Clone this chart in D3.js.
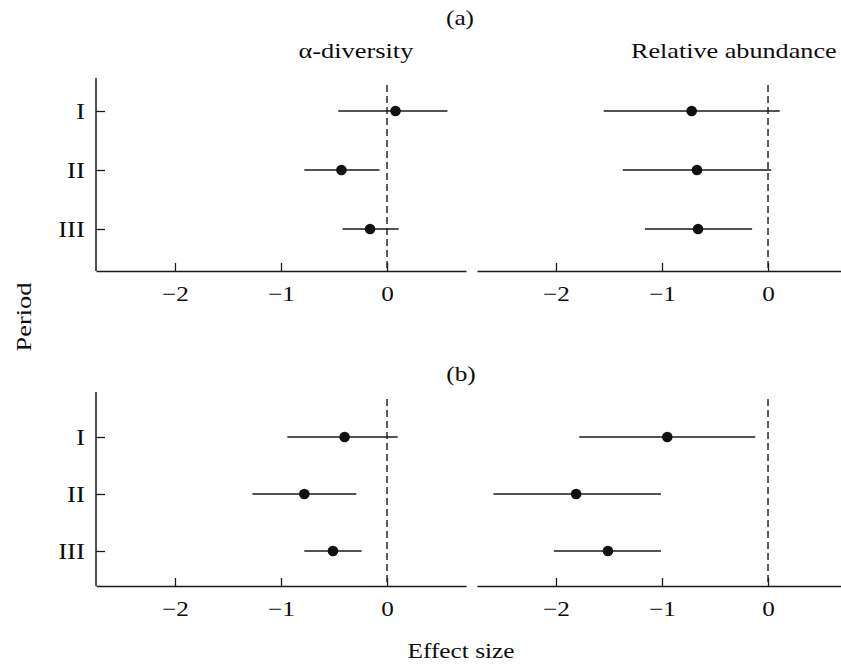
<!DOCTYPE html>
<html>
<head>
<meta charset="utf-8">
<script src="https://cdn.jsdelivr.net/npm/d3@7"></script>
<style>
  body { margin: 0; background: #fff; }
  svg text {
    font-family: "Liberation Serif", "Times New Roman", serif;
    fill: #0d0d0d;
    transform-box: fill-box;
    transform-origin: center;
    transform: scaleX(1.15);
  }
</style>
</head>
<body>
<svg width="841" height="666"></svg>
<script>
var periods = ["I", "II", "III"];
var tickValues = [-2, -1, 0];

// (a)
var alphaMeanA = [0.08, -0.43, -0.16];
var alphaLowA = [-0.46, -0.78, -0.42];
var alphaHighA = [0.57, -0.07, 0.11];
var abundMeanA = [-0.72, -0.67, -0.66];
var abundLowA = [-1.55, -1.37, -1.16];
var abundHighA = [0.11, 0.03, -0.15];

// (b)
var alphaMeanB = [-0.40, -0.78, -0.51];
var alphaLowB = [-0.94, -1.27, -0.78];
var alphaHighB = [0.10, -0.29, -0.24];
var abundMeanB = [-0.95, -1.81, -1.51];
var abundLowB = [-1.78, -2.59, -2.02];
var abundHighB = [-0.12, -1.01, -1.01];

var svg = d3.select("svg");
var ink = "#1a1a1a";

var panelWidth = 370;
var xScale = d3.scaleLinear().domain([-2.745, 0.745]).range([0, panelWidth]);

function rows(mean, low, high) {
    return periods.map((p, i) => ({ period: p, mean: mean[i], low: low[i], high: high[i] }));
}

function drawPanel(left, top, height, yRange, data, withYAxis) {
    var g = svg.append("g").attr("transform", `translate(${left},${top})`);
    var yScale = d3.scalePoint().domain(periods).range(yRange);

    // x axis, ticks pointing inward
    var xAxis = d3.axisBottom(xScale)
        .tickValues(tickValues)
        .tickSize(-8)
        .tickSizeOuter(0)
        .tickPadding(15)
        .tickFormat(d => d < 0 ? "\u2212" + Math.abs(d) : d);
    var gx = g.append("g").attr("transform", `translate(0,${height})`).call(xAxis);
    gx.select(".domain").attr("stroke", ink).attr("stroke-width", 1.5);
    gx.selectAll(".tick line").attr("stroke", ink).attr("stroke-width", 1.3);
    gx.selectAll(".tick text").style("font-size", "21px").attr("fill", "#0d0d0d")
        .style("transform", "scaleX(1.2)");

    if (withYAxis) {
        g.append("line")
            .attr("x1", 0).attr("x2", 0)
            .attr("y1", 0).attr("y2", height)
            .attr("stroke", ink).attr("stroke-width", 1.5);
        var yAxis = d3.axisLeft(yScale).tickSize(-9).tickPadding(11);
        var gy = g.append("g").call(yAxis);
        gy.select(".domain").remove();
        gy.selectAll(".tick line").attr("stroke", ink).attr("stroke-width", 1.3);
        gy.selectAll(".tick text").style("font-size", "24px").attr("fill", "#0d0d0d")
            .style("transform-origin", "right center")
            .style("transform", "scaleX(1.12)");
    }

    // zero line
    g.append("line")
        .attr("x1", xScale(0)).attr("x2", xScale(0))
        .attr("y1", 7).attr("y2", height)
        .attr("stroke", ink).attr("stroke-width", 1.4)
        .attr("stroke-dasharray", "7,4");

    // confidence intervals
    g.selectAll(".ci").data(data).join("line")
        .attr("class", "ci")
        .attr("x1", d => xScale(d.low))
        .attr("x2", d => xScale(d.high))
        .attr("y1", d => yScale(d.period))
        .attr("y2", d => yScale(d.period))
        .attr("stroke", ink).attr("stroke-width", 1.4);

    // means
    g.selectAll(".pt").data(data).join("circle")
        .attr("class", "pt")
        .attr("cx", d => xScale(d.mean))
        .attr("cy", d => yScale(d.period))
        .attr("r", 5.3)
        .attr("fill", "#111");
}

// (a)
drawPanel(96, 78, 193, [33, 151], rows(alphaMeanA, alphaLowA, alphaHighA), true);
drawPanel(477, 78, 193, [33, 151], rows(abundMeanA, abundLowA, abundHighA), false);
// (b)
drawPanel(96, 392, 194, [45, 159], rows(alphaMeanB, alphaLowB, alphaHighB), true);
drawPanel(477, 392, 194, [45, 159], rows(abundMeanB, abundLowB, abundHighB), false);

// titles
svg.append("text").attr("x", 460).attr("y", 25).attr("text-anchor", "middle")
    .style("font-size", "22px").text("(a)");
svg.append("text").attr("x", 461).attr("y", 381).attr("text-anchor", "middle")
    .style("font-size", "22px").text("(b)");
svg.append("text").attr("x", 356).attr("y", 58).attr("text-anchor", "middle")
    .style("font-size", "22px").style("transform", "scaleX(1.2)").text("\u03b1-diversity");
svg.append("text").attr("x", 631).attr("y", 58).attr("text-anchor", "start")
    .style("font-size", "22px").style("transform-origin", "left center")
    .style("transform", "scaleX(1.19)")
    .text("Relative abundance");
svg.append("text").attr("x", 461).attr("y", 658).attr("text-anchor", "middle")
    .style("font-size", "22px").text("Effect size");

// y label
svg.append("text").attr("x", 0).attr("y", 0).attr("text-anchor", "middle")
    .style("font-size", "22px")
    .style("transform-box", "view-box")
    .style("transform-origin", "0 0")
    .style("transform", "translate(31px,317px) rotate(-90deg) scaleX(1.2)")
    .text("Period");
</script>
</body>
</html>
